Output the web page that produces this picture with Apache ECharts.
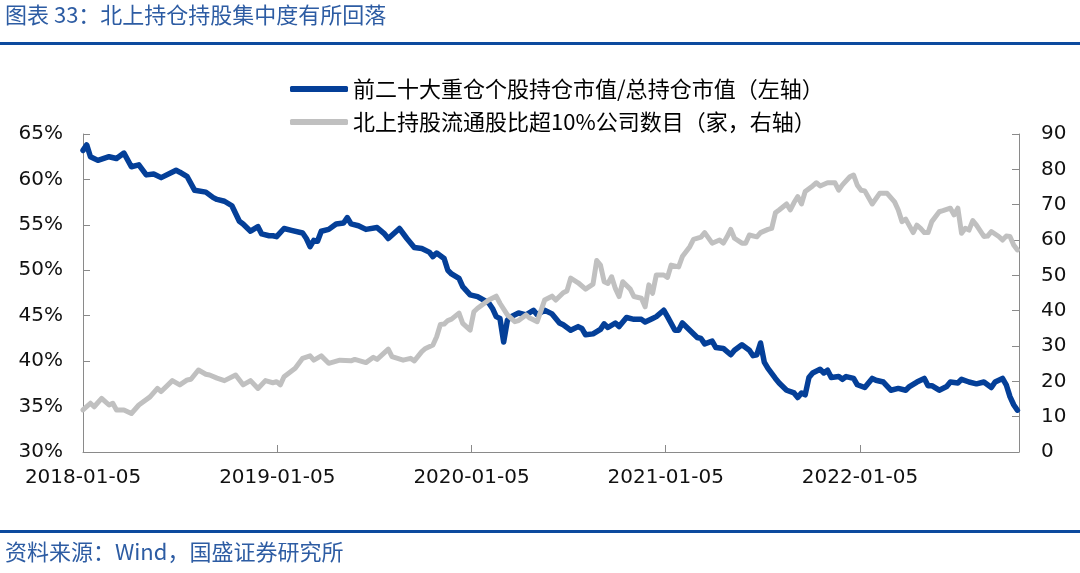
<!DOCTYPE html>
<html>
<head>
<meta charset="utf-8">
<script src="https://cdn.jsdelivr.net/npm/echarts@6/dist/echarts.min.js"></script>
<style>
html,body{margin:0;padding:0;background:#fff;}
#chart{width:1080px;height:573px;}
</style>
</head>
<body>
<div id="chart"></div>
<script>
// ---- data ----
const titleText = '图表 33：北上持仓持股集中度有所回落';
const sourceText = '资料来源：Wind，国盛证券研究所';
const seriesNames = ['前二十大重仓个股持仓市值/总持仓市值（左轴）', '北上持股流通股比超10%公司数目（家，右轴）'];
// x positions are weeks after 2018-01-05
const xTickLabels = ['2018-01-05', '2019-01-05', '2020-01-05', '2021-01-05', '2022-01-05'];

const blueWeeks = [0,1,2,4,7,9,11,13,15,17,19,21,25,26,28,30,33,35,36,38,40,42,43,45,47,48,50,51,52,54,56,59,60,61,62,63,64,66,68,70,71,72,74,76,79,81,82,85,87,89,91,93,94,95,97,98,99,101,102,104,106,109,110,111,112,113,114,115,117,119,121,122,124,126,128,129,131,133,134,135,137,139,140,141,143,144,146,148,150,151,153,154,156,157,159,160,161,163,165,166,167,169,170,172,174,175,177,179,180,181,182,183,184,186,187,189,191,192,193,194,195,196,198,199,200,201,203,204,205,207,208,210,212,213,215,217,219,221,222,224,226,227,228,230,232,233,235,236,238,240,242,244,245,247,248,249,250,251];
const blueValues = [63.2,63.8,62.5,62.1,62.5,62.3,62.9,61.4,61.6,60.5,60.6,60.2,61.0,60.8,60.3,58.8,58.6,58.0,57.8,57.6,57.1,55.4,55.1,54.3,54.8,54.0,53.8,53.8,53.7,54.6,54.4,54.1,53.5,52.6,53.3,53.2,54.3,54.5,55.1,55.2,55.8,55.1,54.9,54.5,54.7,54.0,53.5,54.6,53.5,52.5,52.4,52.0,51.5,51.9,51.3,50.0,49.6,49.1,48.2,47.3,47.1,46.4,45.8,44.9,44.7,42.1,44.5,44.9,45.3,45.1,45.6,45.1,45.6,45.2,44.2,44.0,43.4,43.8,43.6,42.9,43.0,43.5,44.1,43.7,44.2,43.8,44.8,44.6,44.6,44.3,44.7,44.9,45.6,44.9,43.4,43.4,44.2,43.4,42.6,42.5,41.9,42.2,41.5,41.4,40.7,41.2,41.8,41.2,40.6,40.7,42.0,39.9,39.2,38.1,37.6,36.8,36.5,36.0,36.5,36.3,38.2,38.7,39.1,38.7,39.0,38.2,38.3,38.0,38.3,38.1,37.4,37.1,38.1,37.9,37.7,36.8,37.0,36.8,37.2,37.7,38.1,37.3,37.3,36.8,37.2,37.7,37.6,38.0,37.7,37.5,37.7,37.1,37.7,38.1,37.4,36.1,35.2,34.6];

const greyWeeks = [0,2,3,5,7,8,9,11,13,15,18,20,21,24,26,28,29,31,33,34,36,38,41,43,45,47,49,51,52,53,54,57,59,61,62,64,66,69,72,73,76,78,79,82,83,86,88,89,91,92,94,95,96,97,98,99,101,102,104,105,106,109,111,112,114,116,117,119,120,122,124,126,127,129,130,131,133,135,137,138,139,140,141,142,143,144,145,147,148,150,151,152,153,154,156,157,158,160,161,163,164,166,167,169,171,172,173,174,175,177,178,179,181,182,184,185,186,187,189,190,191,192,193,194,196,197,198,200,202,203,204,206,207,208,209,210,212,214,216,218,219,220,221,222,223,224,225,226,227,228,230,231,233,234,235,236,237,238,239,240,242,243,244,246,247,248,249,250,251];
const greyValues = [11.9,13.8,12.8,15.2,13.3,13.8,11.9,11.9,10.9,13.3,15.6,18.0,17.1,20.2,19.0,20.4,20.6,23.2,22.0,21.8,20.9,20.2,21.8,19.0,20.2,18.0,20.2,19.6,19.9,19.0,21.3,23.7,26.5,27.2,26.0,27.2,25.1,26.0,25.8,26.2,25.3,26.8,26.2,29.1,27.0,26.0,26.5,25.8,28.4,29.3,30.3,32.6,36.1,36.2,37.2,37.6,39.3,36.4,34.5,39.7,40.7,43.0,44.1,42.1,38.8,36.9,37.2,38.8,37.9,36.9,43.0,44.1,43.0,45.1,45.6,49.2,47.9,46.1,47.5,54.2,52.9,48.2,47.7,49.6,46.3,44.0,48.2,46.1,44.0,43.5,41.1,47.3,44.9,50.1,50.1,49.4,52.9,52.4,55.3,58.1,60.2,60.8,62.1,59.1,60.0,59.1,60.9,63.0,60.5,59.1,59.1,61.4,60.9,62.1,63.0,63.3,67.7,68.5,70.2,68.5,70.6,72.3,70.2,73.7,75.3,76.2,75.3,76.2,76.2,74.1,75.6,77.9,78.4,75.5,74.1,73.9,70.2,73.2,73.2,70.8,68.5,65.2,65.9,64.0,62.1,64.2,63.3,62.1,62.1,65.2,68.0,68.3,69.0,67.1,69.0,61.9,63.3,62.8,65.5,64.2,61.0,61.1,62.4,61.0,60.0,61.1,61.0,58.6,57.2];

// ---- chart ----
const DAYS_PER_YEAR = 365.25;
const toPairs = (weeks, vals) => weeks.map((w, i) => [w * 7, vals[i]]);
const axisGrey = '#8a8a8a';
const cjk = '"Noto Sans CJK SC", "Noto Sans", sans-serif';

const chart = echarts.init(document.getElementById('chart'), null, {renderer: 'canvas'});
chart.setOption({
  backgroundColor: '#ffffff',
  animation: false,
  grid: {left: 83, right: 61, top: 134, bottom: 121, containLabel: false},
  graphic: [
    {type: 'text', left: 5, top: 4, style: {text: titleText, fill: '#2d5ca3', font: '22px ' + cjk}},
    {type: 'rect', left: 0, top: 42, shape: {width: 1080, height: 3}, style: {fill: '#0c4a9e'}},
    {type: 'rect', left: 0, top: 530, shape: {width: 1080, height: 3}, style: {fill: '#0c4a9e'}},
    {type: 'text', left: 5, top: 541, style: {text: sourceText, fill: '#2d5ca3', font: '22px ' + cjk}}
  ],
  legend: {
    orient: 'vertical',
    left: 285,
    top: 73,
    itemWidth: 58,
    itemHeight: 6,
    itemGap: 11,
    textStyle: {fontSize: 22, color: '#000', fontFamily: cjk},
    data: [
      {name: seriesNames[0], icon: 'roundRect', itemStyle: {color: '#043f98'}},
      {name: seriesNames[1], icon: 'roundRect', itemStyle: {color: '#c0c0c0'}}
    ]
  },
  xAxis: {
    type: 'value',
    min: 0,
    max: 1760,
    interval: DAYS_PER_YEAR,
    axisLine: {show: true, lineStyle: {color: axisGrey, width: 1}},
    axisTick: {show: true, inside: true, length: 7, lineStyle: {color: axisGrey}},
    splitLine: {show: false},
    axisLabel: {
      margin: 16,
      fontSize: 20,
      color: '#111',
      fontFamily: '"DejaVu Sans", sans-serif',
      showMaxLabel: false,
      formatter: function (v) {
        const idx = Math.round(v / DAYS_PER_YEAR);
        if (Math.abs(v - idx * DAYS_PER_YEAR) < 1 && idx < xTickLabels.length) return xTickLabels[idx];
        return '';
      }
    }
  },
  yAxis: [
    {
      type: 'value', min: 30, max: 65, interval: 5, position: 'left',
      axisLine: {show: true, lineStyle: {color: axisGrey, width: 1}},
      axisTick: {show: true, inside: true, length: 7, lineStyle: {color: axisGrey}},
      splitLine: {show: false},
      axisLabel: {margin: 20, fontSize: 20, color: '#111', fontFamily: '"DejaVu Sans", sans-serif', formatter: '{value}%'}
    },
    {
      type: 'value', min: 0, max: 90, interval: 10, position: 'right',
      axisLine: {show: true, lineStyle: {color: axisGrey, width: 1}},
      axisTick: {show: true, inside: true, length: 7, lineStyle: {color: axisGrey}},
      splitLine: {show: false},
      axisLabel: {margin: 22, fontSize: 20, color: '#111', fontFamily: '"DejaVu Sans", sans-serif'}
    }
  ],
  series: [
    {
      name: seriesNames[0], type: 'line', yAxisIndex: 0,
      data: toPairs(blueWeeks, blueValues),
      showSymbol: false, symbol: 'none',
      lineStyle: {width: 5.5, color: '#043f98', cap: 'round', join: 'round'},
      itemStyle: {color: '#043f98'}
    },
    {
      name: seriesNames[1], type: 'line', yAxisIndex: 1,
      data: toPairs(greyWeeks, greyValues),
      showSymbol: false, symbol: 'none',
      lineStyle: {width: 5, color: '#c0c0c0', cap: 'round', join: 'round'},
      itemStyle: {color: '#c0c0c0'}
    }
  ]
});
</script>
</body>
</html>
